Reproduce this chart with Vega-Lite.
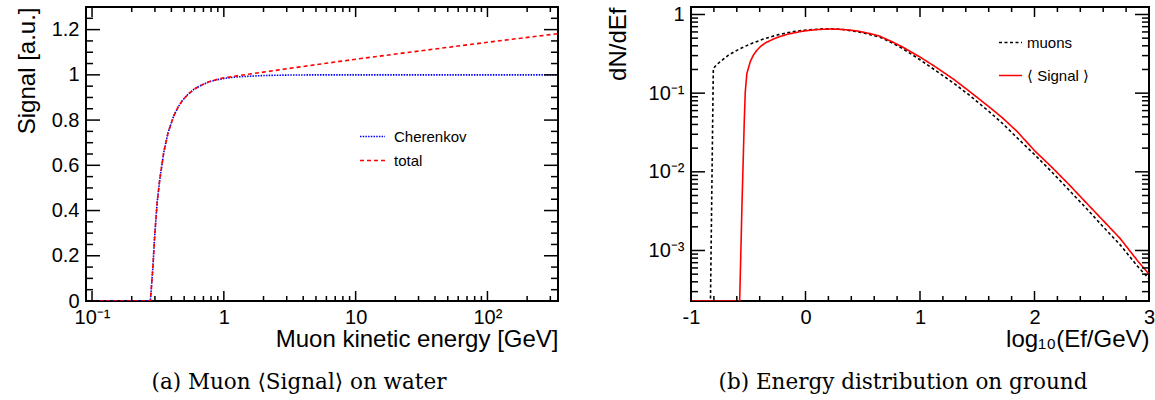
{
  "$schema": "https://vega.github.io/schema/vega-lite/v6.json",
  "background": "white",
  "padding": {"left": 14, "top": 3, "right": 0, "bottom": 0},
  "bounds": "flush",
  "spacing": 133,
  "resolve": {
    "scale": {"color": "independent", "strokeDash": "independent"},
    "legend": {"color": "independent", "strokeDash": "independent"}
  },
  "config": {
    "font": "Liberation Sans",
    "view": {"stroke": "black", "strokeWidth": 2},
    "axis": {
      "domain": false, "grid": false, "ticks": false,
      "labelFont": "Liberation Sans", "labelFontSize": 20, "labelColor": "black",
      "titleFont": "Liberation Sans", "titleFontSize": 24, "titleFontWeight": "normal", "titleColor": "black",
      "labelOverlap": false, "labelFlush": false, "labelBound": false
    },
    "tick": {"color": "black", "thickness": 1.5, "opacity": 1},
    "legend": {"labelFont": "Liberation Sans", "labelColor": "black", "padding": 0}
  },
  "datasets": {
    "signal": [
      {"series": "Cherenkov", "E": 0.1, "S": 0},
      {"series": "Cherenkov", "E": 0.2, "S": 0},
      {"series": "Cherenkov", "E": 0.277, "S": 0},
      {"series": "Cherenkov", "E": 0.283, "S": 0.07},
      {"series": "Cherenkov", "E": 0.289, "S": 0.143},
      {"series": "Cherenkov", "E": 0.299, "S": 0.29},
      {"series": "Cherenkov", "E": 0.312, "S": 0.437},
      {"series": "Cherenkov", "E": 0.327, "S": 0.54},
      {"series": "Cherenkov", "E": 0.35, "S": 0.657},
      {"series": "Cherenkov", "E": 0.378, "S": 0.746},
      {"series": "Cherenkov", "E": 0.417, "S": 0.819},
      {"series": "Cherenkov", "E": 0.45, "S": 0.858},
      {"series": "Cherenkov", "E": 0.483, "S": 0.885},
      {"series": "Cherenkov", "E": 0.53, "S": 0.912},
      {"series": "Cherenkov", "E": 0.592, "S": 0.936},
      {"series": "Cherenkov", "E": 0.68, "S": 0.955},
      {"series": "Cherenkov", "E": 0.769, "S": 0.969},
      {"series": "Cherenkov", "E": 0.88, "S": 0.978},
      {"series": "Cherenkov", "E": 1.0, "S": 0.984},
      {"series": "Cherenkov", "E": 1.2, "S": 0.99},
      {"series": "Cherenkov", "E": 1.46, "S": 0.993},
      {"series": "Cherenkov", "E": 2.0, "S": 0.997},
      {"series": "Cherenkov", "E": 3.0, "S": 0.999},
      {"series": "Cherenkov", "E": 5, "S": 1.0},
      {"series": "Cherenkov", "E": 10, "S": 1.0},
      {"series": "Cherenkov", "E": 30, "S": 1.0},
      {"series": "Cherenkov", "E": 100, "S": 1.0},
      {"series": "Cherenkov", "E": 343, "S": 1.0},
      {"series": "total", "E": 0.1, "S": 0},
      {"series": "total", "E": 0.2, "S": 0},
      {"series": "total", "E": 0.277, "S": 0},
      {"series": "total", "E": 0.283, "S": 0.07},
      {"series": "total", "E": 0.289, "S": 0.143},
      {"series": "total", "E": 0.299, "S": 0.29},
      {"series": "total", "E": 0.312, "S": 0.437},
      {"series": "total", "E": 0.327, "S": 0.54},
      {"series": "total", "E": 0.35, "S": 0.657},
      {"series": "total", "E": 0.378, "S": 0.746},
      {"series": "total", "E": 0.417, "S": 0.819},
      {"series": "total", "E": 0.45, "S": 0.858},
      {"series": "total", "E": 0.483, "S": 0.885},
      {"series": "total", "E": 0.53, "S": 0.912},
      {"series": "total", "E": 0.592, "S": 0.936},
      {"series": "total", "E": 0.68, "S": 0.955},
      {"series": "total", "E": 0.769, "S": 0.969},
      {"series": "total", "E": 0.88, "S": 0.979},
      {"series": "total", "E": 1.0, "S": 0.987},
      {"series": "total", "E": 1.2, "S": 0.994},
      {"series": "total", "E": 1.46, "S": 1.001},
      {"series": "total", "E": 2.0, "S": 1.012},
      {"series": "total", "E": 2.62, "S": 1.022},
      {"series": "total", "E": 5, "S": 1.045},
      {"series": "total", "E": 10.6, "S": 1.071},
      {"series": "total", "E": 30, "S": 1.105},
      {"series": "total", "E": 100, "S": 1.144},
      {"series": "total", "E": 310, "S": 1.179},
      {"series": "total", "E": 343, "S": 1.182}
    ],
    "ticksA": [
      {"axis": "x", "kind": "major", "v": 0.1}, {"axis": "x", "kind": "minor", "v": 0.2}, {"axis": "x", "kind": "minor", "v": 0.3},
      {"axis": "x", "kind": "minor", "v": 0.4}, {"axis": "x", "kind": "minor", "v": 0.5}, {"axis": "x", "kind": "minor", "v": 0.6},
      {"axis": "x", "kind": "minor", "v": 0.7}, {"axis": "x", "kind": "minor", "v": 0.8}, {"axis": "x", "kind": "minor", "v": 0.9},
      {"axis": "x", "kind": "major", "v": 1}, {"axis": "x", "kind": "minor", "v": 2}, {"axis": "x", "kind": "minor", "v": 3},
      {"axis": "x", "kind": "minor", "v": 4}, {"axis": "x", "kind": "minor", "v": 5}, {"axis": "x", "kind": "minor", "v": 6},
      {"axis": "x", "kind": "minor", "v": 7}, {"axis": "x", "kind": "minor", "v": 8}, {"axis": "x", "kind": "minor", "v": 9},
      {"axis": "x", "kind": "major", "v": 10}, {"axis": "x", "kind": "minor", "v": 20}, {"axis": "x", "kind": "minor", "v": 30},
      {"axis": "x", "kind": "minor", "v": 40}, {"axis": "x", "kind": "minor", "v": 50}, {"axis": "x", "kind": "minor", "v": 60},
      {"axis": "x", "kind": "minor", "v": 70}, {"axis": "x", "kind": "minor", "v": 80}, {"axis": "x", "kind": "minor", "v": 90},
      {"axis": "x", "kind": "major", "v": 100}, {"axis": "x", "kind": "minor", "v": 200}, {"axis": "x", "kind": "minor", "v": 300},
      {"axis": "y", "kind": "major", "v": 0}, {"axis": "y", "kind": "minor", "v": 0.05}, {"axis": "y", "kind": "minor", "v": 0.1},
      {"axis": "y", "kind": "minor", "v": 0.15}, {"axis": "y", "kind": "major", "v": 0.2}, {"axis": "y", "kind": "minor", "v": 0.25},
      {"axis": "y", "kind": "minor", "v": 0.3}, {"axis": "y", "kind": "minor", "v": 0.35}, {"axis": "y", "kind": "major", "v": 0.4},
      {"axis": "y", "kind": "minor", "v": 0.45}, {"axis": "y", "kind": "minor", "v": 0.5}, {"axis": "y", "kind": "minor", "v": 0.55},
      {"axis": "y", "kind": "major", "v": 0.6}, {"axis": "y", "kind": "minor", "v": 0.65}, {"axis": "y", "kind": "minor", "v": 0.7},
      {"axis": "y", "kind": "minor", "v": 0.75}, {"axis": "y", "kind": "major", "v": 0.8}, {"axis": "y", "kind": "minor", "v": 0.85},
      {"axis": "y", "kind": "minor", "v": 0.9}, {"axis": "y", "kind": "minor", "v": 0.95}, {"axis": "y", "kind": "major", "v": 1},
      {"axis": "y", "kind": "minor", "v": 1.05}, {"axis": "y", "kind": "minor", "v": 1.1}, {"axis": "y", "kind": "minor", "v": 1.15},
      {"axis": "y", "kind": "major", "v": 1.2}, {"axis": "y", "kind": "minor", "v": 1.25}
    ],
    "ticksB": [
      {"axis": "x", "kind": "major", "v": -1}, {"axis": "x", "kind": "minor", "v": -0.8}, {"axis": "x", "kind": "minor", "v": -0.6},
      {"axis": "x", "kind": "minor", "v": -0.4}, {"axis": "x", "kind": "minor", "v": -0.2}, {"axis": "x", "kind": "major", "v": 0},
      {"axis": "x", "kind": "minor", "v": 0.2}, {"axis": "x", "kind": "minor", "v": 0.4}, {"axis": "x", "kind": "minor", "v": 0.6},
      {"axis": "x", "kind": "minor", "v": 0.8}, {"axis": "x", "kind": "major", "v": 1}, {"axis": "x", "kind": "minor", "v": 1.2},
      {"axis": "x", "kind": "minor", "v": 1.4}, {"axis": "x", "kind": "minor", "v": 1.6}, {"axis": "x", "kind": "minor", "v": 1.8},
      {"axis": "x", "kind": "major", "v": 2}, {"axis": "x", "kind": "minor", "v": 2.2}, {"axis": "x", "kind": "minor", "v": 2.4},
      {"axis": "x", "kind": "minor", "v": 2.6}, {"axis": "x", "kind": "minor", "v": 2.8}, {"axis": "x", "kind": "major", "v": 3},
      {"axis": "y", "kind": "minor", "v": 0.0003}, {"axis": "y", "kind": "minor", "v": 0.0004}, {"axis": "y", "kind": "minor", "v": 0.0005},
      {"axis": "y", "kind": "minor", "v": 0.0006}, {"axis": "y", "kind": "minor", "v": 0.0007}, {"axis": "y", "kind": "minor", "v": 0.0008},
      {"axis": "y", "kind": "minor", "v": 0.0009}, {"axis": "y", "kind": "major", "v": 0.001}, {"axis": "y", "kind": "minor", "v": 0.002},
      {"axis": "y", "kind": "minor", "v": 0.003}, {"axis": "y", "kind": "minor", "v": 0.004}, {"axis": "y", "kind": "minor", "v": 0.005},
      {"axis": "y", "kind": "minor", "v": 0.006}, {"axis": "y", "kind": "minor", "v": 0.007}, {"axis": "y", "kind": "minor", "v": 0.008},
      {"axis": "y", "kind": "minor", "v": 0.009}, {"axis": "y", "kind": "major", "v": 0.01}, {"axis": "y", "kind": "minor", "v": 0.02},
      {"axis": "y", "kind": "minor", "v": 0.03}, {"axis": "y", "kind": "minor", "v": 0.04}, {"axis": "y", "kind": "minor", "v": 0.05},
      {"axis": "y", "kind": "minor", "v": 0.06}, {"axis": "y", "kind": "minor", "v": 0.07}, {"axis": "y", "kind": "minor", "v": 0.08},
      {"axis": "y", "kind": "minor", "v": 0.09}, {"axis": "y", "kind": "major", "v": 0.1}, {"axis": "y", "kind": "minor", "v": 0.2},
      {"axis": "y", "kind": "minor", "v": 0.3}, {"axis": "y", "kind": "minor", "v": 0.4}, {"axis": "y", "kind": "minor", "v": 0.5},
      {"axis": "y", "kind": "minor", "v": 0.6}, {"axis": "y", "kind": "minor", "v": 0.7}, {"axis": "y", "kind": "minor", "v": 0.8},
      {"axis": "y", "kind": "minor", "v": 0.9}, {"axis": "y", "kind": "major", "v": 1}
    ],
    "spectrum": [
      {"series": "muons", "x": -1, "y": 1e-6},
      {"series": "muons", "x": -0.83, "y": 1e-6},
      {"series": "muons", "x": -0.805, "y": 0.206},
      {"series": "muons", "x": -0.775, "y": 0.231},
      {"series": "muons", "x": -0.72, "y": 0.268},
      {"series": "muons", "x": -0.673, "y": 0.304},
      {"series": "muons", "x": -0.6, "y": 0.35},
      {"series": "muons", "x": -0.526, "y": 0.395},
      {"series": "muons", "x": -0.45, "y": 0.44},
      {"series": "muons", "x": -0.38, "y": 0.48},
      {"series": "muons", "x": -0.3, "y": 0.522},
      {"series": "muons", "x": -0.234, "y": 0.555},
      {"series": "muons", "x": -0.16, "y": 0.585},
      {"series": "muons", "x": -0.088, "y": 0.612},
      {"series": "muons", "x": -0.01, "y": 0.63},
      {"series": "muons", "x": 0.058, "y": 0.642},
      {"series": "muons", "x": 0.13, "y": 0.655},
      {"series": "muons", "x": 0.204, "y": 0.66},
      {"series": "muons", "x": 0.28, "y": 0.652},
      {"series": "muons", "x": 0.35, "y": 0.638},
      {"series": "muons", "x": 0.42, "y": 0.615},
      {"series": "muons", "x": 0.5, "y": 0.585},
      {"series": "muons", "x": 0.575, "y": 0.55},
      {"series": "muons", "x": 0.65, "y": 0.515},
      {"series": "muons", "x": 0.75, "y": 0.44},
      {"series": "muons", "x": 0.844, "y": 0.372},
      {"series": "muons", "x": 1.0, "y": 0.266},
      {"series": "muons", "x": 1.135, "y": 0.195},
      {"series": "muons", "x": 1.3, "y": 0.132},
      {"series": "muons", "x": 1.426, "y": 0.0955},
      {"series": "muons", "x": 1.6, "y": 0.0589},
      {"series": "muons", "x": 1.717, "y": 0.0417},
      {"series": "muons", "x": 1.85, "y": 0.0269},
      {"series": "muons", "x": 2.0, "y": 0.0166},
      {"series": "muons", "x": 2.15, "y": 0.01},
      {"series": "muons", "x": 2.3, "y": 0.00589},
      {"series": "muons", "x": 2.45, "y": 0.00347},
      {"series": "muons", "x": 2.6, "y": 0.002},
      {"series": "muons", "x": 2.75, "y": 0.00117},
      {"series": "muons", "x": 2.9, "y": 0.00063},
      {"series": "muons", "x": 3.0, "y": 0.000437},
      {"series": "⟨ Signal ⟩", "x": -1, "y": 1e-6},
      {"series": "⟨ Signal ⟩", "x": -0.575, "y": 1e-6},
      {"series": "⟨ Signal ⟩", "x": -0.554, "y": 0.0042},
      {"series": "⟨ Signal ⟩", "x": -0.535, "y": 0.043},
      {"series": "⟨ Signal ⟩", "x": -0.526, "y": 0.104},
      {"series": "⟨ Signal ⟩", "x": -0.512, "y": 0.178},
      {"series": "⟨ Signal ⟩", "x": -0.483, "y": 0.25},
      {"series": "⟨ Signal ⟩", "x": -0.455, "y": 0.305},
      {"series": "⟨ Signal ⟩", "x": -0.424, "y": 0.352},
      {"series": "⟨ Signal ⟩", "x": -0.39, "y": 0.395},
      {"series": "⟨ Signal ⟩", "x": -0.351, "y": 0.435},
      {"series": "⟨ Signal ⟩", "x": -0.29, "y": 0.48},
      {"series": "⟨ Signal ⟩", "x": -0.234, "y": 0.519},
      {"series": "⟨ Signal ⟩", "x": -0.146, "y": 0.566},
      {"series": "⟨ Signal ⟩", "x": -0.03, "y": 0.612},
      {"series": "⟨ Signal ⟩", "x": 0.06, "y": 0.635},
      {"series": "⟨ Signal ⟩", "x": 0.146, "y": 0.649},
      {"series": "⟨ Signal ⟩", "x": 0.22, "y": 0.653},
      {"series": "⟨ Signal ⟩", "x": 0.292, "y": 0.649},
      {"series": "⟨ Signal ⟩", "x": 0.38, "y": 0.635},
      {"series": "⟨ Signal ⟩", "x": 0.467, "y": 0.612},
      {"series": "⟨ Signal ⟩", "x": 0.553, "y": 0.575},
      {"series": "⟨ Signal ⟩", "x": 0.643, "y": 0.534},
      {"series": "⟨ Signal ⟩", "x": 0.75, "y": 0.455},
      {"series": "⟨ Signal ⟩", "x": 0.844, "y": 0.389},
      {"series": "⟨ Signal ⟩", "x": 1.0, "y": 0.288},
      {"series": "⟨ Signal ⟩", "x": 1.135, "y": 0.216},
      {"series": "⟨ Signal ⟩", "x": 1.3, "y": 0.148},
      {"series": "⟨ Signal ⟩", "x": 1.426, "y": 0.107},
      {"series": "⟨ Signal ⟩", "x": 1.6, "y": 0.0676},
      {"series": "⟨ Signal ⟩", "x": 1.717, "y": 0.049},
      {"series": "⟨ Signal ⟩", "x": 1.85, "y": 0.0324},
      {"series": "⟨ Signal ⟩", "x": 2.0, "y": 0.0186},
      {"series": "⟨ Signal ⟩", "x": 2.15, "y": 0.0115},
      {"series": "⟨ Signal ⟩", "x": 2.3, "y": 0.00692},
      {"series": "⟨ Signal ⟩", "x": 2.45, "y": 0.00407},
      {"series": "⟨ Signal ⟩", "x": 2.6, "y": 0.0024},
      {"series": "⟨ Signal ⟩", "x": 2.75, "y": 0.00141},
      {"series": "⟨ Signal ⟩", "x": 2.9, "y": 0.000741},
      {"series": "⟨ Signal ⟩", "x": 3.0, "y": 0.000501}
    ]
  },
  "hconcat": [
    {
      "width": 472,
      "height": 294,
      "title": {"text": "(a) Muon ⟨Signal⟩ on water", "orient": "bottom", "anchor": "middle", "frame": "group", "font": "DejaVu Serif", "fontSize": 21.5, "fontWeight": "normal", "color": "black", "dx": -23, "offset": 21},
      "layer": [
        {
          "data": {"name": "signal"},
          "transform": [{"filter": "datum.series == 'Cherenkov'"}],
          "mark": {"type": "line", "strokeWidth": 1.6, "clip": true},
          "encoding": {
            "x": {"field": "E", "type": "quantitative",
              "scale": {"type": "log", "domain": [0.09, 343], "nice": false},
              "axis": {"orient": "bottom", "values": [0.1, 1, 10, 100],
                "labelExpr": "datum.value == 0.1 ? '10⁻¹' : datum.value == 1 ? '1' : datum.value == 10 ? '10' : '10²'",
                "labelPadding": 6,
                "title": "Muon kinetic energy [GeV]", "titleAnchor": "end", "titlePadding": 0}},
            "y": {"field": "S", "type": "quantitative",
              "scale": {"domain": [0, 1.3], "nice": false, "zero": false},
              "axis": {"orient": "left", "values": [0, 0.2, 0.4, 0.6, 0.8, 1, 1.2],
                "labelExpr": "'' + datum.value",
                "labelPadding": 7,
                "title": "Signal [a.u.]", "titleAnchor": "end", "titlePadding": 12}},
            "color": {"field": "series", "type": "nominal",
              "scale": {"domain": ["Cherenkov", "total"], "range": ["#0000ff", "#ff0000"]},
              "legend": {"title": null, "orient": "none", "legendX": 273, "legendY": 116, "symbolType": "stroke", "symbolSize": 625, "symbolStrokeWidth": 1.6, "labelFontSize": 15, "labelOffset": 8, "rowPadding": 2}},
            "strokeDash": {"field": "series", "type": "nominal",
              "scale": {"domain": ["Cherenkov", "total"], "range": [[1.5, 1.2], [4, 3]]},
              "legend": {"title": null, "orient": "none", "legendX": 273, "legendY": 116, "symbolType": "stroke", "symbolSize": 625, "symbolStrokeWidth": 1.6, "labelFontSize": 15, "labelOffset": 8, "rowPadding": 2}}
          }
        },
        {
          "data": {"name": "signal"},
          "transform": [{"filter": "datum.series == 'total'"}],
          "mark": {"type": "line", "strokeWidth": 1.6, "clip": true},
          "encoding": {
            "x": {"field": "E", "type": "quantitative"},
            "y": {"field": "S", "type": "quantitative"},
            "color": {"field": "series", "type": "nominal",
              "legend": {"title": null, "orient": "none", "legendX": 273, "legendY": 116, "symbolType": "stroke", "symbolSize": 625, "symbolStrokeWidth": 1.6, "labelFontSize": 15, "labelOffset": 8, "rowPadding": 2}},
            "strokeDash": {"field": "series", "type": "nominal",
              "legend": {"title": null, "orient": "none", "legendX": 273, "legendY": 116, "symbolType": "stroke", "symbolSize": 625, "symbolStrokeWidth": 1.6, "labelFontSize": 15, "labelOffset": 8, "rowPadding": 2}}
          }
        },
        {
          "data": {"name": "ticksA"},
          "transform": [{"filter": "datum.axis == 'x'"}],
          "mark": {"type": "tick", "orient": "vertical", "clip": true},
          "encoding": {
            "x": {"field": "v", "type": "quantitative"},
            "y": {"datum": 0, "type": "quantitative"},
            "size": {"condition": {"test": "datum.kind == 'major'", "value": 20}, "value": 10}
          }
        },
        {
          "data": {"name": "ticksA"},
          "transform": [{"filter": "datum.axis == 'x'"}],
          "mark": {"type": "tick", "orient": "vertical", "clip": true},
          "encoding": {
            "x": {"field": "v", "type": "quantitative"},
            "y": {"datum": 1.3, "type": "quantitative"},
            "size": {"condition": {"test": "datum.kind == 'major'", "value": 20}, "value": 10}
          }
        },
        {
          "data": {"name": "ticksA"},
          "transform": [{"filter": "datum.axis == 'y'"}],
          "mark": {"type": "tick", "orient": "horizontal", "clip": true},
          "encoding": {
            "y": {"field": "v", "type": "quantitative"},
            "x": {"datum": 0.09, "type": "quantitative"},
            "size": {"condition": {"test": "datum.kind == 'major'", "value": 28}, "value": 14}
          }
        },
        {
          "data": {"name": "ticksA"},
          "transform": [{"filter": "datum.axis == 'y'"}],
          "mark": {"type": "tick", "orient": "horizontal", "clip": true},
          "encoding": {
            "y": {"field": "v", "type": "quantitative"},
            "x": {"datum": 343, "type": "quantitative"},
            "size": {"condition": {"test": "datum.kind == 'major'", "value": 28}, "value": 14}
          }
        }
      ]
    },
    {
      "width": 458,
      "height": 294,
      "title": {"text": "(b) Energy distribution on ground", "orient": "bottom", "anchor": "middle", "frame": "group", "font": "DejaVu Serif", "fontSize": 21.5, "fontWeight": "normal", "color": "black", "dx": -17, "offset": 21},
      "layer": [
        {
          "data": {"name": "spectrum"},
          "transform": [{"filter": "datum.series == 'muons'"}],
          "mark": {"type": "line", "strokeWidth": 1.6, "clip": true},
          "encoding": {
            "x": {"field": "x", "type": "quantitative",
              "scale": {"domain": [-1, 3], "nice": false, "zero": false},
              "axis": {"orient": "bottom", "values": [-1, 0, 1, 2, 3],
                "labelExpr": "'' + datum.value",
                "labelPadding": 6,
                "title": "log₁₀(Ef/GeV)", "titleAnchor": "end", "titlePadding": 0}},
            "y": {"field": "y", "type": "quantitative",
              "scale": {"type": "log", "domain": [0.000228, 1.245], "nice": false, "clamp": true},
              "axis": {"orient": "left", "values": [0.001, 0.01, 0.1, 1],
                "labelExpr": "datum.value == 1 ? '1' : datum.value == 0.1 ? '10⁻¹' : datum.value == 0.01 ? '10⁻²' : '10⁻³'",
                "labelPadding": 7,
                "title": "dN/dEf", "titleAnchor": "end", "titlePadding": 18}},
            "color": {"field": "series", "type": "nominal",
              "scale": {"domain": ["muons", "⟨ Signal ⟩"], "range": ["#000000", "#ff0000"]},
              "legend": {"title": null, "orient": "none", "legendX": 307, "legendY": 23, "symbolType": "stroke", "symbolSize": 529, "symbolStrokeWidth": 1.6, "labelFontSize": 15, "labelOffset": 4, "rowPadding": 12}},
            "strokeDash": {"field": "series", "type": "nominal",
              "scale": {"domain": ["muons", "⟨ Signal ⟩"], "range": [[3, 2.5], [1, 0]]},
              "legend": {"title": null, "orient": "none", "legendX": 307, "legendY": 23, "symbolType": "stroke", "symbolSize": 529, "symbolStrokeWidth": 1.6, "labelFontSize": 15, "labelOffset": 4, "rowPadding": 12}}
          }
        },
        {
          "data": {"name": "spectrum"},
          "transform": [{"filter": "datum.series != 'muons'"}],
          "mark": {"type": "line", "strokeWidth": 1.6, "clip": true},
          "encoding": {
            "x": {"field": "x", "type": "quantitative"},
            "y": {"field": "y", "type": "quantitative"},
            "color": {"field": "series", "type": "nominal",
              "legend": {"title": null, "orient": "none", "legendX": 307, "legendY": 23, "symbolType": "stroke", "symbolSize": 529, "symbolStrokeWidth": 1.6, "labelFontSize": 15, "labelOffset": 4, "rowPadding": 12}},
            "strokeDash": {"field": "series", "type": "nominal",
              "legend": {"title": null, "orient": "none", "legendX": 307, "legendY": 23, "symbolType": "stroke", "symbolSize": 529, "symbolStrokeWidth": 1.6, "labelFontSize": 15, "labelOffset": 4, "rowPadding": 12}}
          }
        },
        {
          "data": {"name": "ticksB"},
          "transform": [{"filter": "datum.axis == 'x'"}],
          "mark": {"type": "tick", "orient": "vertical", "clip": true},
          "encoding": {
            "x": {"field": "v", "type": "quantitative"},
            "y": {"datum": 0.000228, "type": "quantitative"},
            "size": {"condition": {"test": "datum.kind == 'major'", "value": 20}, "value": 10}
          }
        },
        {
          "data": {"name": "ticksB"},
          "transform": [{"filter": "datum.axis == 'x'"}],
          "mark": {"type": "tick", "orient": "vertical", "clip": true},
          "encoding": {
            "x": {"field": "v", "type": "quantitative"},
            "y": {"datum": 1.245, "type": "quantitative"},
            "size": {"condition": {"test": "datum.kind == 'major'", "value": 20}, "value": 10}
          }
        },
        {
          "data": {"name": "ticksB"},
          "transform": [{"filter": "datum.axis == 'y'"}],
          "mark": {"type": "tick", "orient": "horizontal", "clip": true},
          "encoding": {
            "y": {"field": "v", "type": "quantitative"},
            "x": {"datum": -1, "type": "quantitative"},
            "size": {"condition": {"test": "datum.kind == 'major'", "value": 28}, "value": 14}
          }
        },
        {
          "data": {"name": "ticksB"},
          "transform": [{"filter": "datum.axis == 'y'"}],
          "mark": {"type": "tick", "orient": "horizontal", "clip": true},
          "encoding": {
            "y": {"field": "v", "type": "quantitative"},
            "x": {"datum": 3, "type": "quantitative"},
            "size": {"condition": {"test": "datum.kind == 'major'", "value": 28}, "value": 14}
          }
        }
      ]
    }
  ]
}
